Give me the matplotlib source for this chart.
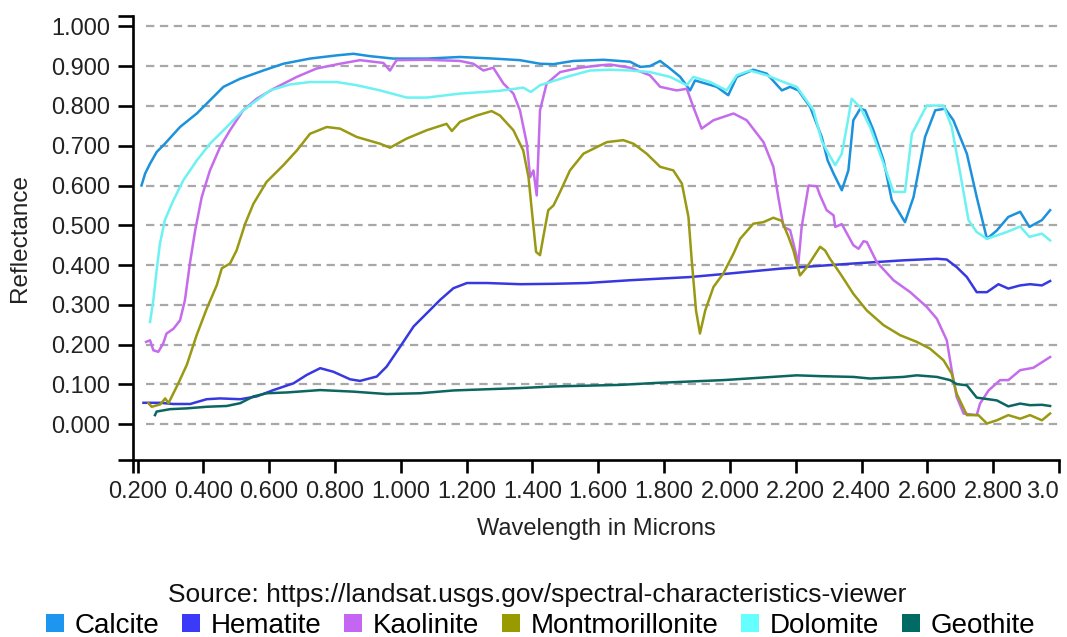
import numpy as np
import matplotlib
matplotlib.use("Agg")
import matplotlib.pyplot as plt
from matplotlib.lines import Line2D

plt.rcParams['font.family'] = ['Liberation Sans', 'DejaVu Sans']
plt.rcParams['lines.scale_dashes'] = False

# spectral curves (wavelength in microns, reflectance)
calcite_x = [0.212, 0.223, 0.238, 0.258, 0.283, 0.329, 0.380, 0.420, 0.461, 0.511, 0.582, 0.643, 0.724, 0.805,
             0.856, 0.907, 0.977, 1.079, 1.180, 1.281, 1.362, 1.423, 1.464, 1.524, 1.616, 1.697, 1.727, 1.757,
             1.788, 1.818, 1.849, 1.879, 1.894, 1.960, 1.995, 2.021, 2.071, 2.112, 2.158, 2.183, 2.208, 2.244,
             2.279, 2.297, 2.315, 2.340, 2.360, 2.375, 2.396, 2.411, 2.436, 2.467, 2.492, 2.532, 2.558, 2.593,
             2.624, 2.654, 2.679, 2.720, 2.750, 2.781, 2.811, 2.846, 2.882, 2.910, 2.948, 2.973]
calcite_y = [0.600, 0.630, 0.655, 0.684, 0.705, 0.747, 0.781, 0.814, 0.848, 0.868, 0.889, 0.906, 0.919, 0.927,
             0.931, 0.925, 0.919, 0.919, 0.923, 0.919, 0.915, 0.906, 0.905, 0.913, 0.916, 0.911, 0.898, 0.900,
             0.913, 0.894, 0.873, 0.839, 0.864, 0.848, 0.827, 0.873, 0.891, 0.881, 0.839, 0.848, 0.839, 0.797,
             0.722, 0.663, 0.630, 0.588, 0.638, 0.764, 0.793, 0.789, 0.739, 0.663, 0.563, 0.508, 0.571, 0.722,
             0.789, 0.793, 0.764, 0.680, 0.571, 0.466, 0.487, 0.521, 0.534, 0.496, 0.513, 0.538]

hematite_x = [0.218, 0.269, 0.309, 0.360, 0.410, 0.451, 0.512, 0.562, 0.613, 0.674, 0.714, 0.755, 0.795, 0.846,
              0.876, 0.927, 0.957, 0.998, 1.039, 1.079, 1.120, 1.160, 1.201, 1.262, 1.363, 1.464, 1.565, 1.697,
              1.879, 2.000, 2.152, 2.304, 2.375, 2.527, 2.629, 2.659, 2.689, 2.720, 2.750, 2.781, 2.816, 2.846,
              2.882, 2.912, 2.948, 2.973]
hematite_y = [0.054, 0.054, 0.051, 0.051, 0.063, 0.065, 0.063, 0.070, 0.086, 0.103, 0.124, 0.141, 0.132, 0.113,
              0.109, 0.120, 0.145, 0.195, 0.246, 0.279, 0.313, 0.342, 0.355, 0.355, 0.352, 0.353, 0.355, 0.362,
              0.370, 0.379, 0.391, 0.400, 0.404, 0.412, 0.416, 0.414, 0.395, 0.370, 0.332, 0.332, 0.352, 0.341,
              0.349, 0.352, 0.349, 0.360]

kaolinite_x = [0.226, 0.238, 0.248, 0.263, 0.278, 0.288, 0.309, 0.329, 0.344, 0.359, 0.375, 0.395, 0.420, 0.451,
               0.481, 0.521, 0.562, 0.613, 0.684, 0.744, 0.815, 0.876, 0.947, 0.967, 0.987, 1.079, 1.180, 1.220,
               1.251, 1.281, 1.312, 1.342, 1.362, 1.383, 1.393, 1.403, 1.413, 1.423, 1.443, 1.484, 1.545, 1.605,
               1.636, 1.697, 1.757, 1.788, 1.838, 1.869, 1.889, 1.914, 1.950, 2.011, 2.051, 2.102, 2.132, 2.147,
               2.163, 2.183, 2.208, 2.218, 2.239, 2.264, 2.274, 2.294, 2.315, 2.320, 2.340, 2.375, 2.391, 2.406,
               2.416, 2.446, 2.497, 2.548, 2.598, 2.629, 2.659, 2.674, 2.689, 2.710, 2.750, 2.760, 2.786, 2.821,
               2.846, 2.882, 2.922, 2.973]
kaolinite_y = [0.207, 0.211, 0.186, 0.182, 0.203, 0.228, 0.240, 0.261, 0.312, 0.404, 0.487, 0.571, 0.638, 0.697,
               0.739, 0.789, 0.818, 0.843, 0.873, 0.894, 0.906, 0.915, 0.908, 0.889, 0.915, 0.916, 0.913, 0.906,
               0.889, 0.896, 0.856, 0.831, 0.789, 0.705, 0.621, 0.638, 0.575, 0.789, 0.856, 0.885, 0.896, 0.902,
               0.904, 0.896, 0.877, 0.848, 0.839, 0.843, 0.797, 0.743, 0.764, 0.781, 0.764, 0.709, 0.647, 0.571,
               0.496, 0.488, 0.404, 0.496, 0.600, 0.598, 0.575, 0.538, 0.525, 0.496, 0.503, 0.450, 0.441, 0.460,
               0.458, 0.408, 0.362, 0.332, 0.295, 0.265, 0.211, 0.136, 0.069, 0.027, 0.023, 0.052, 0.085, 0.111,
               0.111, 0.136, 0.142, 0.169]

montmorillonite_x = [0.233, 0.243, 0.269, 0.284, 0.294, 0.324, 0.350, 0.380, 0.410, 0.441, 0.456, 0.481, 0.501,
                     0.527, 0.552, 0.592, 0.643, 0.684, 0.724, 0.775, 0.815, 0.866, 0.937, 0.967, 1.018, 1.079,
                     1.139, 1.155, 1.180, 1.231, 1.276, 1.301, 1.342, 1.372, 1.388, 1.398, 1.411, 1.423, 1.433,
                     1.448, 1.464, 1.484, 1.514, 1.555, 1.626, 1.676, 1.707, 1.747, 1.788, 1.828, 1.854, 1.874,
                     1.884, 1.897, 1.909, 1.925, 1.950, 1.980, 2.011, 2.031, 2.071, 2.102, 2.132, 2.158, 2.178,
                     2.193, 2.213, 2.234, 2.274, 2.289, 2.304, 2.335, 2.375, 2.416, 2.467, 2.517, 2.568, 2.608,
                     2.649, 2.674, 2.689, 2.720, 2.755, 2.781, 2.811, 2.846, 2.882, 2.912, 2.948, 2.973]
montmorillonite_y = [0.053, 0.044, 0.050, 0.065, 0.053, 0.103, 0.150, 0.225, 0.290, 0.350, 0.392, 0.404, 0.437,
                     0.504, 0.554, 0.609, 0.651, 0.688, 0.730, 0.747, 0.743, 0.722, 0.705, 0.695, 0.718, 0.739,
                     0.755, 0.737, 0.760, 0.776, 0.787, 0.776, 0.739, 0.688, 0.621, 0.538, 0.433, 0.425, 0.471,
                     0.538, 0.550, 0.584, 0.638, 0.680, 0.709, 0.714, 0.705, 0.680, 0.647, 0.638, 0.605, 0.521,
                     0.412, 0.286, 0.228, 0.286, 0.345, 0.379, 0.429, 0.466, 0.504, 0.508, 0.519, 0.511, 0.471,
                     0.437, 0.374, 0.395, 0.446, 0.437, 0.416, 0.379, 0.328, 0.286, 0.249, 0.224, 0.207, 0.190,
                     0.161, 0.127, 0.077, 0.023, 0.023, 0.002, 0.010, 0.023, 0.014, 0.023, 0.010, 0.027]

dolomite_x = [0.238, 0.248, 0.258, 0.268, 0.283, 0.309, 0.339, 0.380, 0.420, 0.471, 0.521, 0.562, 0.603, 0.663,
              0.724, 0.805, 0.866, 0.937, 1.018, 1.079, 1.180, 1.301, 1.372, 1.395, 1.423, 1.504, 1.575, 1.636,
              1.697, 1.757, 1.818, 1.869, 1.889, 1.940, 1.990, 2.021, 2.061, 2.112, 2.163, 2.203, 2.254, 2.279,
              2.294, 2.320, 2.340, 2.355, 2.370, 2.396, 2.426, 2.467, 2.497, 2.532, 2.553, 2.598, 2.649, 2.674,
              2.700, 2.725, 2.750, 2.781, 2.841, 2.882, 2.910, 2.948, 2.973]
dolomite_y = [0.257, 0.312, 0.387, 0.454, 0.513, 0.563, 0.613, 0.663, 0.705, 0.747, 0.789, 0.814, 0.839, 0.854,
              0.860, 0.860, 0.852, 0.839, 0.821, 0.821, 0.831, 0.838, 0.846, 0.835, 0.852, 0.873, 0.889, 0.891,
              0.889, 0.885, 0.873, 0.852, 0.873, 0.860, 0.839, 0.877, 0.889, 0.877, 0.860, 0.848, 0.789, 0.712,
              0.688, 0.651, 0.680, 0.747, 0.818, 0.797, 0.747, 0.655, 0.584, 0.584, 0.730, 0.801, 0.801, 0.747,
              0.630, 0.513, 0.483, 0.466, 0.483, 0.497, 0.471, 0.479, 0.462]

geothite_x = [0.253, 0.258, 0.299, 0.350, 0.410, 0.471, 0.512, 0.552, 0.593, 0.654, 0.755, 0.856, 0.957, 1.059,
              1.160, 1.261, 1.363, 1.464, 1.565, 1.667, 1.778, 1.980, 2.203, 2.274, 2.375, 2.426, 2.527, 2.568,
              2.629, 2.669, 2.689, 2.720, 2.750, 2.811, 2.846, 2.882, 2.912, 2.948, 2.973]
geothite_y = [0.023, 0.032, 0.038, 0.040, 0.044, 0.046, 0.053, 0.070, 0.078, 0.080, 0.086, 0.082, 0.076, 0.078,
              0.085, 0.088, 0.091, 0.095, 0.097, 0.099, 0.104, 0.111, 0.123, 0.121, 0.119, 0.115, 0.119, 0.123,
              0.119, 0.111, 0.101, 0.098, 0.067, 0.060, 0.045, 0.052, 0.048, 0.049, 0.046]

names = ['Calcite', 'Hematite', 'Kaolinite', 'Montmorillonite', 'Dolomite', 'Geothite']
xs = [calcite_x, hematite_x, kaolinite_x, montmorillonite_x, dolomite_x, geothite_x]
ys = [calcite_y, hematite_y, kaolinite_y, montmorillonite_y, dolomite_y, geothite_y]
colours = ['#1c92dc', '#3838e0', '#c46cec', '#999913', '#6cf2f2', '#0c6660']
legend_colours = ['#1e96f0', '#3a3af8', '#c566f2', '#999900', '#66ffff', '#006a64']

fig = plt.figure(figsize=(10.67, 6.37), dpi=100)
ax = fig.add_axes([0.1249, 0.2779, 0.8676, 0.697])
x_lo, x_hi = 0.187, 3.0
y_lo, y_hi = -0.0897, 1.026
ax.set_xlim(x_lo, x_hi)
ax.set_ylim(y_lo, y_hi)

yticks = np.round(np.arange(0, 1.01, 0.1), 1)
ax.hlines(yticks, 0.226, 3.0, colors='#a8a8a8', linewidth=1.6, linestyles=(0, (6, 4)), zorder=1)

for x, y, c in zip(xs, ys, colours):
    ax.plot(x, y, color=c, lw=1.8, zorder=3, solid_joinstyle='round')

for s in ['top', 'right']:
    ax.spines[s].set_visible(False)
for s in ['left', 'bottom']:
    ax.spines[s].set_linewidth(1.9)
    ax.spines[s].set_color('black')

xticks = np.round(np.arange(0.2, 3.01, 0.2), 1)
xlabels = ['%.3f' % v for v in xticks]
xlabels[-1] = '3.0'   # the viewer cuts the last label at the edge
ax.set_xticks(xticks)
ax.set_xticklabels(xlabels)
ax.get_xticklabels()[-1].set_horizontalalignment('right')
ax.set_yticks(yticks)
ax.set_yticklabels(['%.3f' % v for v in yticks])
ax.set_xticks([x_lo], minor=True)
ax.set_yticks([y_lo, y_hi], minor=True)
ax.tick_params(axis='x', which='both', length=9.4, width=1.9, pad=6, labelsize=17, colors='black', labelcolor='#222222')
ax.tick_params(axis='y', which='both', length=11, width=1.9, pad=5.5, labelsize=17, colors='black', labelcolor='#222222')

fig.text(596 / 1067, 1 - 535.5 / 637, 'Wavelength in Microns', ha='center', va='baseline', fontsize=17, color='#222222')
fig.text(20 / 1067, 1 - 238 / 637, 'Reflectance', ha='center', va='center', rotation=90, fontsize=17.5, color='#222222')
fig.text(537 / 1067, 1 - 602 / 637, 'Source: https://landsat.usgs.gov/spectral-characteristics-viewer',
         ha='center', va='baseline', fontsize=19, color='#111111')

handles = [Line2D([], [], marker='s', linestyle='', markersize=12.5, markeredgewidth=0, color=c) for c in legend_colours]
fig.legend(handles, names, loc='center', bbox_to_anchor=(540 / 1067, 1 - 626 / 637), ncol=6, frameon=False,
           fontsize=20, handlelength=0.75, handletextpad=0.35, columnspacing=0.75, borderpad=0, borderaxespad=0)

fig.savefig('out.png', dpi=100)
